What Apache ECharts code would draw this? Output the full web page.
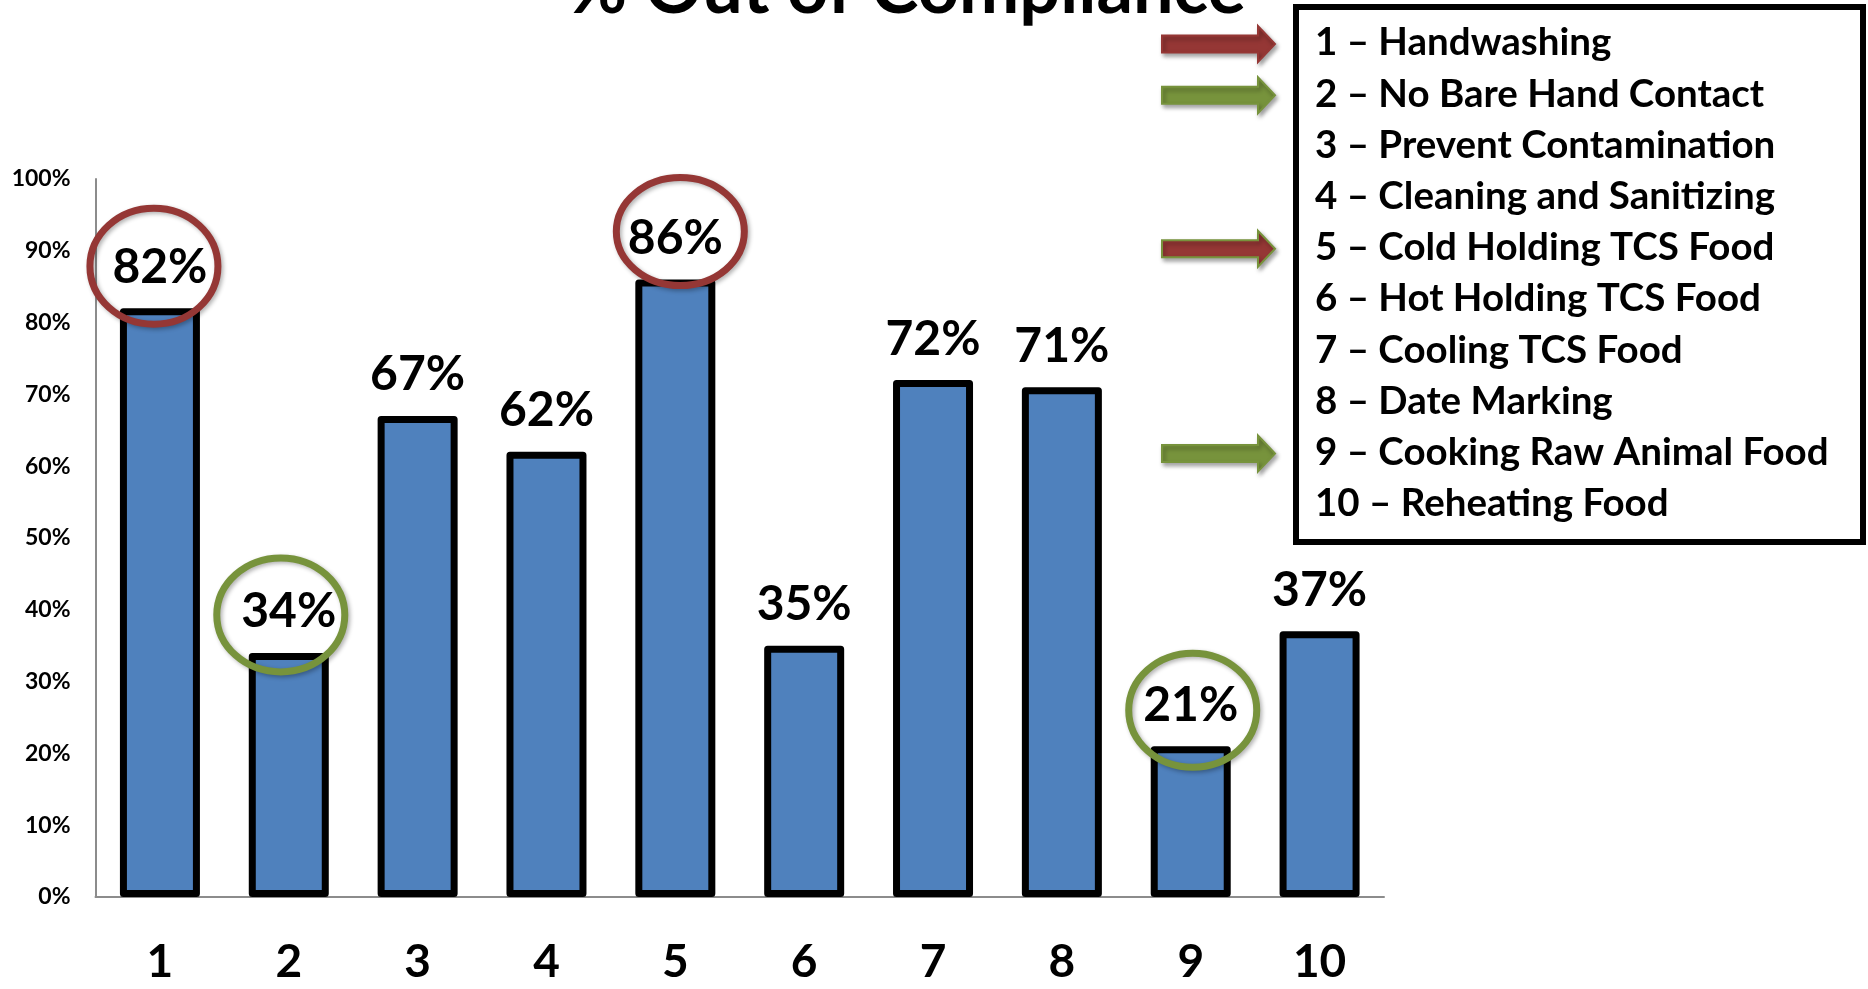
<!DOCTYPE html>
<html>
<head>
<meta charset="utf-8">
<script src="https://cdn.jsdelivr.net/npm/echarts@6/dist/echarts.min.js"></script>
<style>
html,body{margin:0;padding:0;background:#fff;}
#chart{width:1868px;height:989px;}
</style>
</head>
<body>
<div id="chart"></div>
<script>
// ---- data ----
const titleText = '% Out of Compliance';
const categories = ['1', '2', '3', '4', '5', '6', '7', '8', '9', '10'];
const values = [82, 34, 67, 62, 86, 35, 72, 71, 21, 37];
const yTickLabels = ['0%', '10%', '20%', '30%', '40%', '50%', '60%', '70%', '80%', '90%', '100%'];
const legendItems = [
  '1 – Handwashing',
  '2 – No Bare Hand Contact',
  '3 – Prevent Contamination',
  '4 – Cleaning and Sanitizing',
  '5 – Cold Holding TCS Food',
  '6 – Hot Holding TCS Food',
  '7 – Cooling TCS Food',
  '8 – Date Marking',
  '9 – Cooking Raw Animal Food',
  '10 – Reheating Food'
];
// highlighted items: category index + marker colour
const circledIndex = [0, 1, 4, 8];
const circledColor = ['red', 'green', 'red', 'green'];
const arrowIndex = [0, 1, 4, 8];
const arrowFill = ['red', 'green', 'red', 'green'];
const arrowStroke = ['red', 'green', 'green', 'green'];

// ---- styles / layout ----
const FONT = 'Lato, "Open Sans", sans-serif';
const COLORS = { red: '#953735', green: '#77933C' };
const circleOffset = [[-6, -42], [-8, -38], [5, -48], [2, -36]];
const circleR = [[64, 58], [64, 57], [64, 54], [64, 57]];

const chart = echarts.init(document.getElementById('chart'), null, { renderer: 'canvas' });

const option = {
  animation: false,
  backgroundColor: '#ffffff',
  grid: { left: 95.5, right: 484, top: 179, bottom: 92 },
  xAxis: {
    type: 'category',
    data: categories,
    axisLine: { lineStyle: { color: '#8c8c8c', width: 2 } },
    axisTick: { show: false },
    axisLabel: { color: '#000', fontFamily: FONT, fontWeight: 'bold', fontSize: 46, margin: 42 }
  },
  yAxis: {
    type: 'value',
    min: 0, max: 100, interval: 10,
    splitLine: { show: false },
    axisLine: { show: true, lineStyle: { color: '#8c8c8c', width: 2 } },
    axisTick: { show: false },
    axisLabel: {
      color: '#000', fontFamily: FONT, fontWeight: 'bold', fontSize: 23, margin: 25,
      formatter: function (v) { return yTickLabels[Math.round(v / 10)]; }
    }
  },
  series: [{
    type: 'bar',
    data: values,
    barWidth: 80,
    itemStyle: { color: '#4F81BD', borderColor: '#000', borderWidth: 7, borderJoin: 'round' },
    label: {
      show: true, position: 'top', distance: 17,
      color: '#000', fontFamily: FONT, fontWeight: 'bold', fontSize: 48,
      formatter: function (p) { return p.value + '%'; }
    }
  }]
};
chart.setOption(option);

// ---- annotations ----
const graphics = [];
// title
graphics.push({
  type: 'text', z: 20,
  style: { text: titleText, x: 907, y: 26, align: 'center', verticalAlign: 'bottom',
           fill: '#000', font: 'bold 72px ' + FONT }
});
// legend box
graphics.push({
  type: 'rect', z: 20,
  shape: { x: 1296, y: 7, width: 567, height: 535 },
  style: { fill: '#fff', stroke: '#000', lineWidth: 6 }
});
const legendTop = 43, legendStep = 51.2;
legendItems.forEach(function (t, i) {
  graphics.push({
    type: 'text', z: 21,
    style: { text: t, x: 1315, y: legendTop + i * legendStep, align: 'left', verticalAlign: 'middle',
             fill: '#000', font: 'bold 38.5px ' + FONT }
  });
});
// arrows
arrowIndex.forEach(function (idx, k) {
  const cy = legendTop + idx * legendStep + 1;
  const x0 = 1162, xh = 1258, xt = 1275;
  graphics.push({
    type: 'polygon', z: 20,
    shape: { points: [[x0, cy - 8.5], [xh, cy - 8.5], [xh, cy - 18], [xt, cy], [xh, cy + 18], [xh, cy + 8.5], [x0, cy + 8.5]] },
    style: {
      fill: COLORS[arrowFill[k]], stroke: COLORS[arrowStroke[k]], lineWidth: 2,
      shadowBlur: 4, shadowOffsetX: 2, shadowOffsetY: 3, shadowColor: 'rgba(0,0,0,0.35)'
    }
  });
});
// circles around highlighted bar labels
circledIndex.forEach(function (idx, k) {
  const p = chart.convertToPixel({ gridIndex: 0 }, [idx, values[idx]]);
  graphics.push({
    type: 'ellipse', z: 30,
    shape: { cx: p[0] + circleOffset[k][0], cy: p[1] + circleOffset[k][1], rx: circleR[k][0], ry: circleR[k][1] },
    style: {
      fill: 'none', stroke: COLORS[circledColor[k]], lineWidth: 7,
      shadowBlur: 4, shadowOffsetX: 2, shadowOffsetY: 2, shadowColor: 'rgba(0,0,0,0.3)'
    }
  });
});
chart.setOption({ graphic: graphics });
</script>
</body>
</html>
